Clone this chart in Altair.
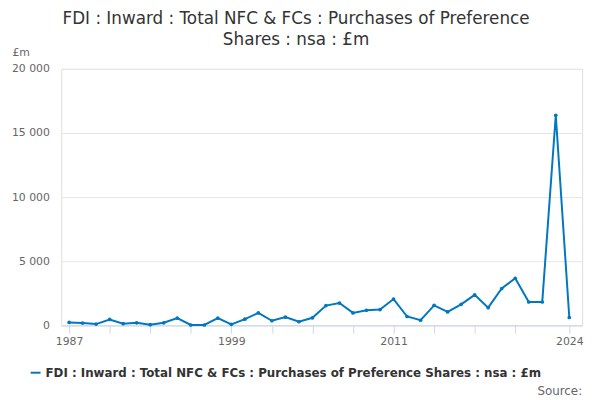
import altair as alt
import pandas as pd

SERIES = "FDI : Inward : Total NFC & FCs : Purchases of Preference Shares : nsa : £m"

years = list(range(1987, 2025))
values = [230, 180, 100, 460, 130, 200, 50, 200, 560, 30,
          30, 560, 80, 480, 970, 360, 640, 280, 590, 1540,
          1740, 970, 1180, 1230, 2050, 690, 400, 1560, 1050, 1640,
          2380, 1380, 2870, 3670, 1820, 1820, 16380, 615]
tick_years = list(range(1987, 2021, 3)) + [2024]
label_years = [1987, 1999, 2011, 2024]

df = pd.DataFrame({"Year": years, "Value": values, "Series": SERIES})
FONT = "DejaVu Sans"

line = (
    alt.Chart(df)
    .mark_line(point=alt.OverlayMarkDef(size=14, filled=True), strokeWidth=2)
    .encode(
        x=alt.X("Year:Q", title=None,
                scale=alt.Scale(domain=[1986.42, 2024.95], nice=False, zero=False),
                axis=alt.Axis(values=tick_years, grid=False, tickSize=8,
                              labelExpr="indexof([1987,1999,2011,2024], datum.value) >= 0 ? datum.value : ''",
                              format="d", domainColor="#ccd6eb", tickColor="#ccd6eb",
                              labelColor="#666666", labelFontSize=11, labelFlush=False)),
        y=alt.Y("Value:Q", scale=alt.Scale(domain=[0, 20000]),
                axis=alt.Axis(values=[0, 5000, 10000, 15000, 20000], format=",d",
                              labelExpr="replace(format(datum.value, ',d'), ',', ' ')",
                              title="£m", titleAngle=0, titleX=-50, titleY=-12,
                              titleAlign="left", titleFontWeight="normal", titleFontSize=11,
                              titleColor="#666666", domain=False, ticks=False,
                              gridColor="#e6e6e6", labelColor="#666666", labelFontSize=11,
                              labelPadding=12)),
        color=alt.Color("Series:N", scale=alt.Scale(range=["#0077c0"]),
                        legend=alt.Legend(title=None, orient="none", legendX=-32, legendY=302,
                                          labelFontSize=12, labelFontWeight="bold",
                                          labelColor="#333333", labelLimit=600, symbolType="stroke",
                                          symbolStrokeWidth=2)),
    )
)

source = (
    alt.Chart(pd.DataFrame({"t": ["Source:"]}))
    .mark_text(align="right", fontSize=12, color="#666666", font=FONT)
    .encode(text="t:N", x=alt.value(528), y=alt.value(327))
)

chart = (
    alt.layer(line, source)
    .properties(
        width=528, height=260,
        autosize=alt.AutoSizeParams(type="none"),
        padding={"left": 54, "top": 59, "right": 10, "bottom": 76},
        title=alt.TitleParams(
            text=["FDI : Inward : Total NFC & FCs : Purchases of Preference", "Shares : nsa : £m"],
            fontSize=17, fontWeight="normal", color="#333333", font=FONT,
            anchor="middle", dx=-26, offset=-3, lineHeight=21),
    )
    .configure_view(strokeWidth=0)
    .configure(font=FONT)
)

chart.save("out.html", embed_options={"renderer": "svg", "actions": False})
